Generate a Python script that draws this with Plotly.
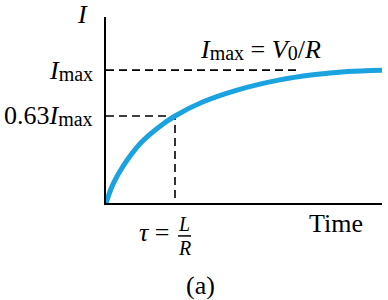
import plotly.graph_objects as go

# Data (time in units of tau, current as fraction of Imax)
time_tau = [0.0, 0.10, 0.25, 0.50, 0.75, 1.00, 1.40, 1.90, 2.50, 3.00, 3.50, 4.00]
current_frac = [0.0, 0.14, 0.28, 0.45, 0.565, 0.655, 0.76, 0.85, 0.925, 0.965, 0.99, 1.0]

imax_level = 1.0
tau_level = 0.655
tau_time = 1.0
imax_dash_end = 2.81

FONT = "Liberation Serif"
SUB = "<span style='font-size:20px;baseline-shift:-2px'>{}</span>"

fig = go.Figure()

# guide dashed lines
dash_style = dict(color="black", width=1.6, dash="8px,5px")
fig.add_trace(go.Scatter(x=[0, imax_dash_end], y=[imax_level, imax_level], mode="lines",
                         line=dash_style, hoverinfo="skip", cliponaxis=False))
fig.add_trace(go.Scatter(x=[0, tau_time, tau_time], y=[tau_level, tau_level, 0], mode="lines",
                         line=dash_style, hoverinfo="skip", cliponaxis=False))

# current curve
fig.add_trace(go.Scatter(x=time_tau, y=current_frac, mode="lines",
                         line=dict(color="#1ba3e0", width=5, shape="spline", smoothing=0.9),
                         hoverinfo="skip", cliponaxis=False))

ann_font = dict(family=FONT, size=26, color="black")
small_font = dict(family=FONT, size=20, color="black")
annotations = [
    dict(x=-0.085, y=1.011, text="<i>I</i>", xanchor="center", yanchor="middle"),
    dict(x=-0.040, y=0.715, text="<i>I</i>" + SUB.format("max"), xanchor="right", yanchor="middle"),
    dict(x=-0.040, y=0.468, text="0.63<i>I</i>" + SUB.format("max"), xanchor="right", yanchor="middle"),
    dict(x=0.333, y=0.823, text="<i>I</i>" + SUB.format("max") + " = <i>V</i>" + SUB.format("0") + "/<i>R</i>",
         xanchor="left", yanchor="middle"),
    dict(x=0.236, y=-0.156, text="<i>τ</i> =", xanchor="right", yanchor="middle"),
    dict(x=0.283, y=-0.113, text="<i>L</i>", xanchor="center", yanchor="middle", font=small_font),
    dict(x=0.283, y=-0.240, text="<i>R</i>", xanchor="center", yanchor="middle", font=small_font),
    dict(x=0.833, y=-0.108, text="Time", xanchor="center", yanchor="middle"),
    dict(x=0.341, y=-0.446, text="(a)", xanchor="center", yanchor="middle"),
]
for a in annotations:
    a.setdefault("font", ann_font)
    a.update(xref="paper", yref="paper", showarrow=False)

fig.update_layout(
    width=388, height=300,
    margin=dict(l=106, r=6, t=17, b=97),
    paper_bgcolor="white", plot_bgcolor="white",
    showlegend=False,
    annotations=annotations,
    shapes=[dict(type="line", xref="paper", yref="paper", x0=0.261, x1=0.308, y0=-0.177, y1=-0.177,
                 line=dict(color="black", width=1.5))],
    xaxis=dict(range=[0, 4], showline=True, linecolor="black", linewidth=2, showgrid=False,
               zeroline=False, showticklabels=False, ticks=""),
    yaxis=dict(range=[0, 1.4], showline=True, linecolor="black", linewidth=2, showgrid=False,
               zeroline=False, showticklabels=False, ticks=""),
)

fig.write_html("out.html")
